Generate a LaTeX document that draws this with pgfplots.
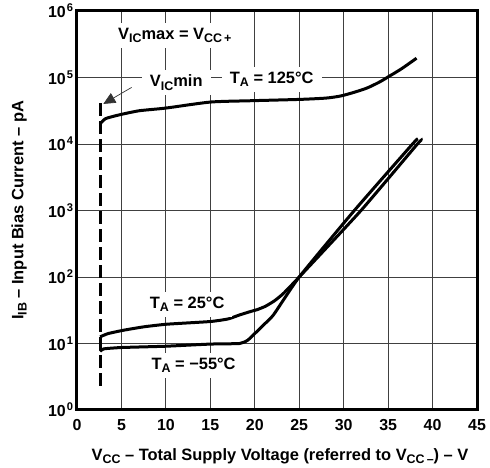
\documentclass[border=0pt]{standalone}
\usepackage{fontspec}
\setmainfont{Liberation Sans}
\usepackage{pgfplots}
\pgfplotsset{compat=1.18}
\usetikzlibrary{arrows.meta}

\newcommand{\lbl}{\fontsize{16.5}{18}\selectfont\bfseries}
\newcommand{\tck}{\fontsize{16}{18}\selectfont\bfseries}
\newcommand{\sub}[1]{\raisebox{-0.38ex}{\fontsize{12.5}{13}\selectfont #1}}

\begin{document}
\begin{tikzpicture}[x=1bp,y=1bp]
\path[use as bounding box] (-77,-58) rectangle (413,410);
\begin{axis}[
    at={(0,0)}, anchor=south west,
    scale only axis, width=400bp, height=399bp,
    xmin=0, xmax=45,
    ymode=log, ymin=1, ymax=1e6,
    xtick={0,5,10,15,20,25,30,35,40,45},
    xticklabels={0,5,10,15,20,25,30,35,40,45},
    ytick={1,10,100,1000,10000,100000,1000000},
    yticklabels={10\kern1pt\textsuperscript{0},10\kern1pt\textsuperscript{1},10\kern1pt\textsuperscript{2},
                 10\kern1pt\textsuperscript{3},10\kern1pt\textsuperscript{4},10\kern1pt\textsuperscript{5},
                 10\kern1pt\textsuperscript{6}},
    minor ytick={},
    grid=major,
    major grid style={black!75, line width=0.8bp},
    axis line style={line width=3bp},
    major tick length=0pt, minor tick length=0pt,
    tick label style={font=\tck},
    xticklabel style={yshift=-6bp},
    xlabel={V\sub{CC} -- Total Supply Voltage (referred to V\sub{CC\,--}) -- V},
    ylabel={I\sub{IB} -- Input Bias Current -- pA},
    xlabel style={font=\lbl, at={(axis description cs:0.5075,0)}, anchor=base, yshift=-50bp},
    ylabel style={font=\lbl, at={(axis description cs:-0.134,0.5)}, anchor=base},
    clip=false,
]

% T_A = 125 C
\addplot[line width=3bp, smooth, tension=0.4] coordinates {
    (2.6,20000) (3.2,24000) (4.8,27500) (7,31600) (10,34700) (15,42700)
    (19.5,44700) (25,46800) (28,49000) (29.6,52500) (31,58900) (32.6,69200)
    (34,85000) (35,102000) (36.5,135000) (38.2,195000)
};

% T_A = 25 C
\addplot[line width=3bp, smooth, tension=0.3] coordinates {
    (2.6,12.6) (3.5,14.1) (5.2,15.8) (7.5,17.8) (10.1,19.5) (15,21.4)
    (17,23.4) (18.3,26.9) (19.5,30.2) (20.3,32.4) (21.2,36.3) (22.2,43.7)
    (23.2,56.2) (25,100) (31.95,1000) (38.3,10000) (38.75,11220)
};

% T_A = -55 C
\addplot[line width=3bp, smooth, tension=0.3] coordinates {
    (2.6,7.6) (3.0,8.3) (5,8.7) (10,9.1) (15,9.8) (18.3,10)
    (19.2,11.2) (20,14.1) (21,19.1) (22.1,26.9) (25,100)
    (31.2,1000) (37.75,10000) (38.35,12000)
};

% V_IC min
\addplot[line width=3.2bp, dash pattern=on 13bp off 5bp] coordinates {
    (2.6,2.3) (2.6,41700)
};

\draw[line width=0.7bp, black!80, -{Triangle[length=12bp,width=11bp]}]
    (axis cs:6.15,71000) -- (axis cs:2.96,40000);

\tikzset{lab/.style={anchor=base west, fill=white, inner xsep=8bp, inner ysep=5bp, font=\lbl}}
\node[lab] at (axis cs:3.71,375000) {V\sub{IC}max = V\sub{CC\,+}};
\node[lab] at (axis cs:7.28,72000) {V\sub{IC}min};
\node[lab] at (axis cs:16.28,82000) {T\sub{A} = 125°C};
\node[lab] at (axis cs:7.28,33.8) {T\sub{A} = 25°C};
\node[lab] at (axis cs:7.46,4.09) {T\sub{A} = −55°C};
\end{axis}
\end{tikzpicture}
\end{document}
